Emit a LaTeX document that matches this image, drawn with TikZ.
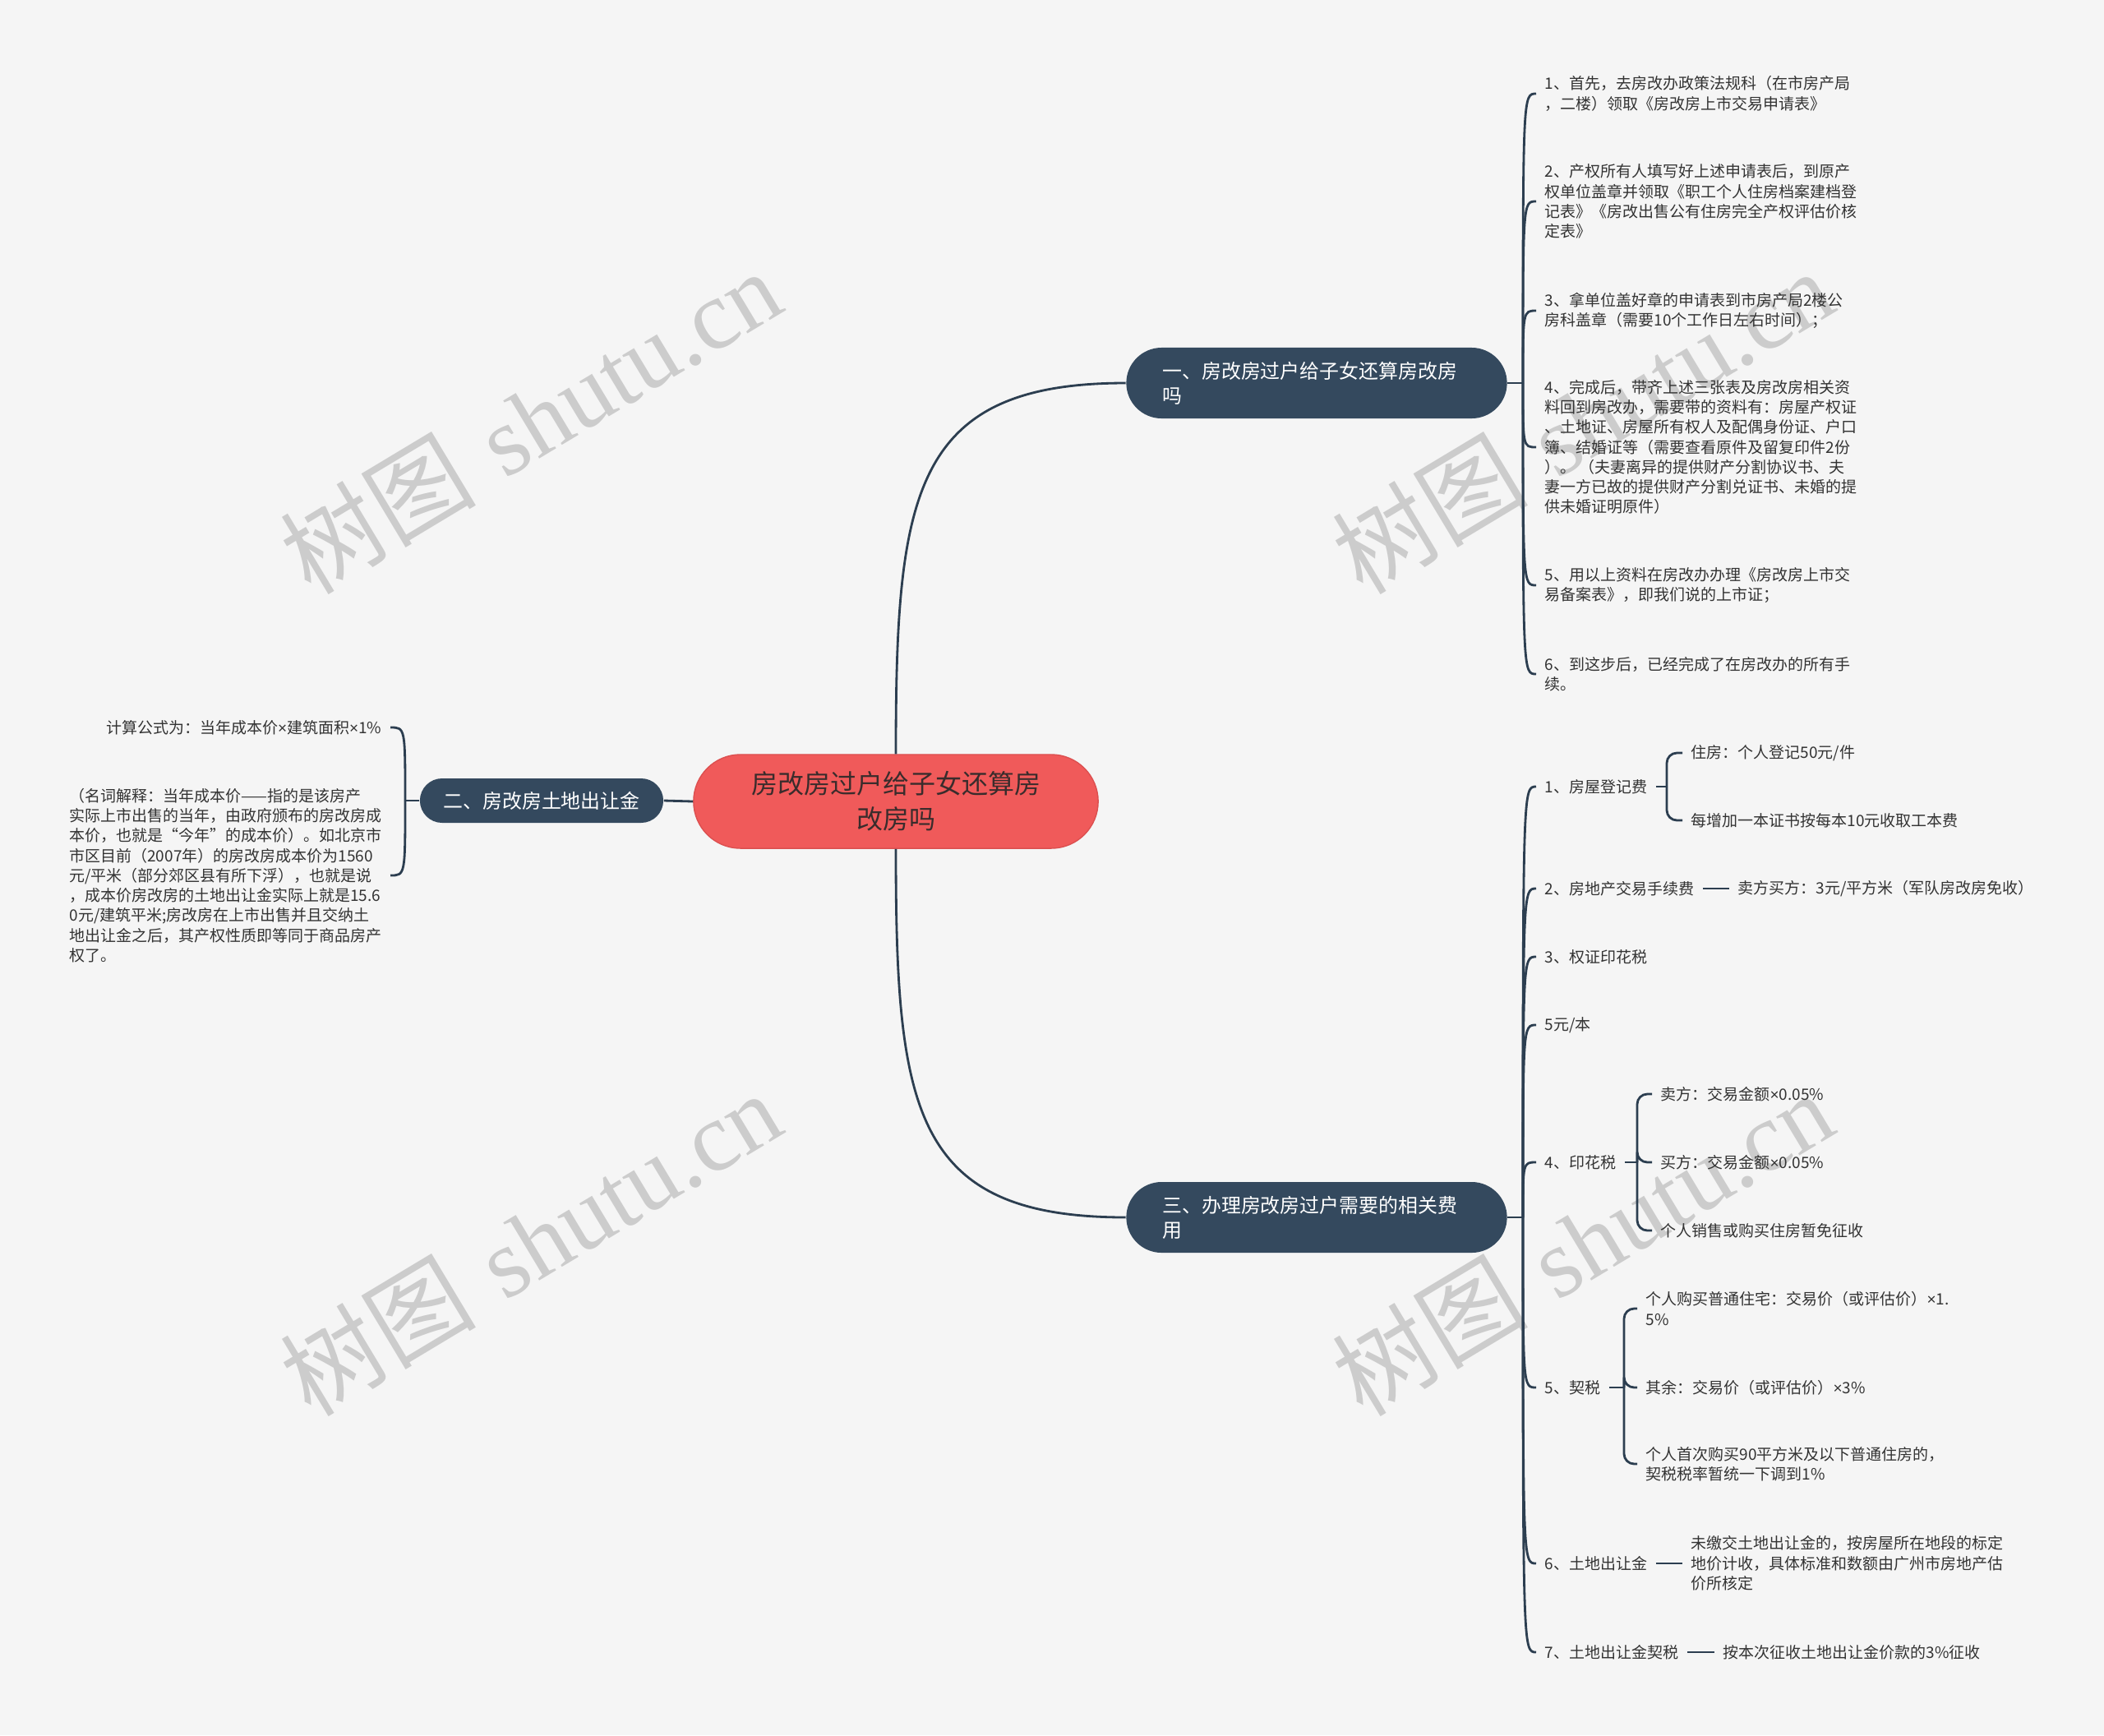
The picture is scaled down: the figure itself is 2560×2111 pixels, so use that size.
\documentclass[tikz,border=0pt]{standalone}
\usepackage{fontspec}
\usetikzlibrary{positioning}
\newfontfamily\cjk{Noto Sans CJK SC}
\newfontfamily\wmlatin{Liberation Serif}
\newfontfamily\latinsans{Liberation Sans}
\newcommand{\timesign}{{\latinsans ×}}
\definecolor{bgcol}{HTML}{F5F5F5}
\definecolor{navy}{HTML}{34495E}
\definecolor{linecol}{HTML}{2C3E50}
\definecolor{rootred}{HTML}{F05A5A}
\definecolor{rootedge}{HTML}{DC5050}
\definecolor{roottext}{HTML}{3A2C2C}
\definecolor{txt}{HTML}{333333}
\definecolor{wmcol}{HTML}{CCCCCC}

\begin{document}
\begin{tikzpicture}[
  x=0.01cm, y=-0.01cm,
  font=\cjk,
  root/.style={draw=rootedge, line width=.4pt, fill=rootred, rounded corners=0.57cm,
               minimum width=4.92cm, minimum height=1.14cm, align=center, text=roottext,
               font=\cjk\fontsize{9.1}{12.2}\selectfont},
  topic/.style={fill=navy, text=white, inner sep=0pt, font=\cjk\fontsize{6.8}{8.5}\selectfont},
  topicwide/.style={topic, rounded corners=0.43cm, minimum width=4.63cm, minimum height=0.86cm,
                    text width=3.75cm, align=left},
  leaf/.style={inner xsep=1mm, inner ysep=0pt, align=left, text=txt,
               font=\cjk\fontsize{5.4}{6.9}\selectfont},
  leafr/.style={leaf, anchor=east},
  leafl/.style={leaf, anchor=west},
  trunk/.style={draw=linecol, line width=.8pt},
  link/.style={draw=linecol, line width=.8pt},
  fork/.style={link, rounded corners=3.5pt},
  wmark/.style={text=wmcol, rotate=31, font=\fontsize{34}{38}\selectfont}
]
  \useasboundingbox (0,0) rectangle (2560,2111);
  \fill[bgcol] (0,0) rectangle (2560,2111);

  \node[wmark] (wm1) at (645,512) {{\cjk 树图} {\wmlatin shutu.cn}};
  \node[wmark] (wm2) at (1925,512) {{\cjk 树图} {\wmlatin shutu.cn}};
  \node[wmark] (wm3) at (645,1512) {{\cjk 树图} {\wmlatin shutu.cn}};
  \node[wmark] (wm4) at (1925,1512) {{\cjk 树图} {\wmlatin shutu.cn}};

  \node[root] (root) at (1090,975) {房改房过户给子女还算房\\改房吗};
  \node[topicwide] (topicA) at (1602,466) {一、房改房过户给子女还算房改房\\吗};
  \node[topic, rounded corners=0.27cm, minimum width=2.96cm, minimum height=0.54cm]
       (topicB) at (659,974) {二、房改房土地出让金};
  \node[topicwide] (topicC) at (1602,1481) {三、办理房改房过户需要的相关费\\用};

  \draw[trunk] (root.north) .. controls (1090,600) and (1110,466) .. (topicA.west);
  \draw[trunk] (root.south) .. controls (1090,1350) and (1110,1481) .. (topicC.west);
  \draw[trunk] (root.west) -- (topicB.east);

  \node[leafl] (leafA1) at (1869,114) {1、首先，去房改办政策法规科（在市房产局\\，二楼）领取《房改房上市交易申请表》};
  \node[leafl] (leafA2) at (1869,245) {2、产权所有人填写好上述申请表后，到原产\\权单位盖章并领取《职工个人住房档案建档登\\记表》《房改出售公有住房完全产权评估价核\\定表》};
  \node[leafl] (leafA3) at (1869,378) {3、拿单位盖好章的申请表到市房产局2楼公\\房科盖章（需要10个工作日左右时间）；};
  \node[leafl] (leafA4) at (1869,544) {4、完成后，带齐上述三张表及房改房相关资\\料回到房改办，需要带的资料有：房屋产权证\\、土地证、房屋所有权人及配偶身份证、户口\\簿、结婚证等（需要查看原件及留复印件2份\\）。 （夫妻离异的提供财产分割协议书、夫\\妻一方已故的提供财产分割兑证书、未婚的提\\供未婚证明原件）};
  \node[leafl] (leafA5) at (1869,712) {5、用以上资料在房改办办理《房改房上市交\\易备案表》，即我们说的上市证；};
  \node[leafl] (leafA6) at (1869,820) {6、到这步后，已经完成了在房改办的所有手\\续。};
  \coordinate (hubA) at (1853,466);
  \draw[link] (topicA.east) -- (hubA);
  \foreach \k in {leafA1,leafA2,leafA3,leafA4,leafA5,leafA6}
    \draw[link] (hubA) .. controls (hubA |- \k.west) .. (\k.west);

  \node[leafr] (leafB1) at (475,885) {计算公式为：当年成本价\timesign 建筑面积\timesign 1\%};
  \node[leafr] (leafB2) at (475,1065) {（名词解释：当年成本价——指的是该房产\\实际上市出售的当年，由政府颁布的房改房成\\本价，也就是“今年”的成本价）。如北京市\\市区目前（2007年）的房改房成本价为1560\\元/平米（部分郊区县有所下浮），也就是说\\，成本价房改房的土地出让金实际上就是15.6\\0元/建筑平米;房改房在上市出售并且交纳土\\地出让金之后，其产权性质即等同于商品房产\\权了。};
  \coordinate (hubB) at (493,974);
  \draw[link] (topicB.west) -- (hubB);
  \foreach \k in {leafB1,leafB2}
    \draw[link] (hubB) .. controls (hubB |- \k.east) .. (\k.east);

  \node[leafl] (leafC1) at (1869,957) {1、房屋登记费};
  \node[leafl] (leafC2) at (1869,1081) {2、房地产交易手续费};
  \node[leafl] (leafC3) at (1869,1164) {3、权证印花税};
  \node[leafl] (leafC4) at (1869,1247) {5元/本};
  \node[leafl] (leafC5) at (1869,1414) {4、印花税};
  \node[leafl] (leafC6) at (1869,1688) {5、契税};
  \node[leafl] (leafC7) at (1869,1902) {6、土地出让金};
  \node[leafl] (leafC8) at (1869,2010) {7、土地出让金契税};
  \coordinate (hubC) at (1853,1481);
  \draw[link] (topicC.east) -- (hubC);
  \foreach \k in {leafC1,leafC2,leafC3,leafC4,leafC5,leafC6,leafC7,leafC8}
    \draw[link] (hubC) .. controls (hubC |- \k.west) .. (\k.west);

  \node[leafl] (subC1a) at (2047,916) {住房：个人登记50元/件};
  \node[leafl] (subC1b) at (2047,998) {每增加一本证书按每本10元收取工本费};
  \coordinate (forkC1) at (2028,957);
  \draw[link] (leafC1.east) -- (forkC1);
  \foreach \k in {subC1a,subC1b}
    \draw[fork] (forkC1) |- (\k.west);

  \node[leafl] (subC2) at (2104,1081) {卖方买方：3元/平方米（军队房改房免收）};
  \draw[link] (leafC2.east) -- (subC2.west);

  \node[leafl] (subC5a) at (2010,1331) {卖方：交易金额\timesign 0.05\%};
  \node[leafl] (subC5b) at (2010,1414) {买方：交易金额\timesign 0.05\%};
  \node[leafl] (subC5c) at (2010,1497) {个人销售或购买住房暂免征收};
  \coordinate (forkC5) at (1992,1414);
  \draw[link] (leafC5.east) -- (forkC5);
  \foreach \k in {subC5a,subC5b,subC5c}
    \draw[fork] (forkC5) |- (\k.west);

  \node[leafl] (subC6a) at (1992,1592) {个人购买普通住宅：交易价（或评估价）\timesign 1.\\5\%};
  \node[leafl] (subC6b) at (1992,1688) {其余：交易价（或评估价）\timesign 3\%};
  \node[leafl] (subC6c) at (1992,1781) {个人首次购买90平方米及以下普通住房的，\\契税税率暂统一下调到1\%};
  \coordinate (forkC6) at (1976,1688);
  \draw[link] (leafC6.east) -- (forkC6);
  \foreach \k in {subC6a,subC6b,subC6c}
    \draw[fork] (forkC6) |- (\k.west);

  \node[leafl] (subC7) at (2047,1902) {未缴交土地出让金的，按房屋所在地段的标定\\地价计收，具体标准和数额由广州市房地产估\\价所核定};
  \draw[link] (leafC7.east) -- (subC7.west);

  \node[leafl] (subC8) at (2086,2010) {按本次征收土地出让金价款的3\%征收};
  \draw[link] (leafC8.east) -- (subC8.west);
\end{tikzpicture}
\end{document}
